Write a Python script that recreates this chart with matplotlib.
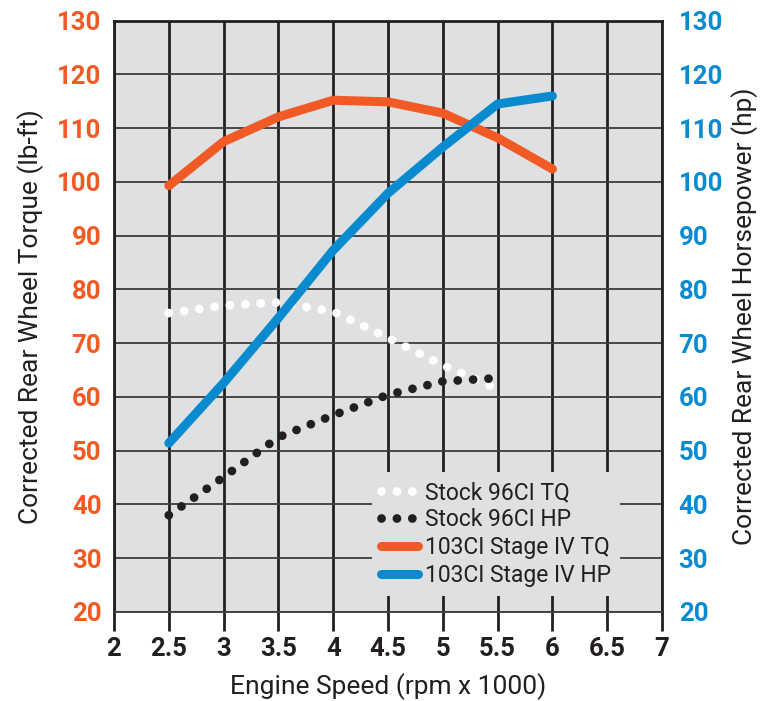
import matplotlib
matplotlib.use("Agg")
import matplotlib.pyplot as plt

plt.rcParams['font.family'] = ['Roboto', 'DejaVu Sans']

# engine speed (rpm x 1000)
rpm = [2.5, 3.0, 3.5, 4.0, 4.5, 5.0, 5.5, 6.0]
rpm_stock = [2.5, 3.0, 3.5, 4.0, 4.5, 5.0, 5.5]

stock_tq = [75.6, 77.0, 77.6, 75.9, 71.0, 65.9, 61.5]
stock_hp = [38.0, 45.1, 52.5, 56.6, 60.4, 62.9, 63.5]
stage4_tq = [99.3, 107.5, 112.1, 115.2, 114.9, 112.8, 108.2, 102.4]
stage4_hp = [51.4, 62.6, 74.7, 87.3, 97.9, 106.5, 114.5, 116.0]

x_ticks = [2, 2.5, 3, 3.5, 4, 4.5, 5, 5.5, 6, 6.5, 7]
y_ticks = [20, 30, 40, 50, 60, 70, 80, 90, 100, 110, 120, 130]

ORANGE = '#f15a24'
BLUE = '#0a8bd0'
DARK = '#231f20'
BG = '#dfe0e2'

fig = plt.figure(figsize=(7.62, 7.01), dpi=100)
ax = fig.add_axes([0.1496, 0.127, 0.7192, 0.8435])
ax.set_facecolor(BG)

dots = (0, (0.01, 1.75))
ax.plot(rpm_stock, stock_tq, color='white', lw=6.3, linestyle=dots,
        dash_capstyle='round', label='Stock 96CI TQ', zorder=3)
ax.plot(rpm_stock, stock_hp, color=DARK, lw=6.3, linestyle=dots,
        dash_capstyle='round', label='Stock 96CI HP', zorder=3)
ax.plot(rpm, stage4_tq, color=ORANGE, lw=6.5, solid_capstyle='round',
        solid_joinstyle='round', label='103CI Stage IV TQ', zorder=4)
ax.plot(rpm, stage4_hp, color=BLUE, lw=6.5, solid_capstyle='round',
        solid_joinstyle='round', label='103CI Stage IV HP', zorder=4)

ax.set_xlim(2, 7)
ax.set_ylim(20, 130)
ax.set_xticks(x_ticks)
ax.set_xticklabels([f'{t:g}' for t in x_ticks])
ax.set_yticks(y_ticks)
ax.set_axisbelow(True)
ax.xaxis.grid(True, color=DARK, lw=2.0)
ax.yaxis.grid(True, color='#3c3c3c', lw=1.3)

for s in ['left', 'right', 'top']:
    ax.spines[s].set_color(DARK)
    ax.spines[s].set_linewidth(2.0)
ax.spines['bottom'].set_color('#3c3c3c')
ax.spines['bottom'].set_linewidth(1.3)

ax.tick_params(axis='x', length=14, width=2.0, color=DARK, pad=4,
               labelsize=18.5, labelcolor=DARK)
for lab in ax.get_xticklabels():
    lab.set_fontweight('bold')
ax.tick_params(axis='y', length=0, pad=9, labelsize=18.5, labelcolor=ORANGE)
for lab in ax.get_yticklabels():
    lab.set_fontweight('bold')

ax2 = ax.twinx()
ax2.set_ylim(20, 130)
ax2.set_yticks(y_ticks)
ax2.tick_params(axis='y', length=0, pad=12, labelsize=18.5, labelcolor=BLUE)
for lab in ax2.get_yticklabels():
    lab.set_fontweight('bold')
for s in ax2.spines.values():
    s.set_visible(False)

ax.set_xlabel('Engine Speed (rpm x 1000)', fontsize=19, color=DARK, labelpad=9)
ax.set_ylabel('Corrected Rear Wheel Torque (lb-ft)', fontsize=19, color=DARK, labelpad=9)
ax2.set_ylabel('Corrected Rear Wheel Horsepower (hp)', fontsize=19, color=DARK, labelpad=6)

leg = ax.legend(loc='lower left', bbox_to_anchor=(0.45, 0.008), fontsize=16.5,
                frameon=True, facecolor=BG, edgecolor='none', framealpha=1,
                handlelength=1.6, handletextpad=0.3, labelspacing=0.2,
                borderpad=0.4, fancybox=False)
leg.set_zorder(5)
for t in leg.get_texts():
    t.set_color(DARK)
for h in leg.get_lines():
    h.set_solid_capstyle('round')

fig.savefig('out.png', dpi=100)
